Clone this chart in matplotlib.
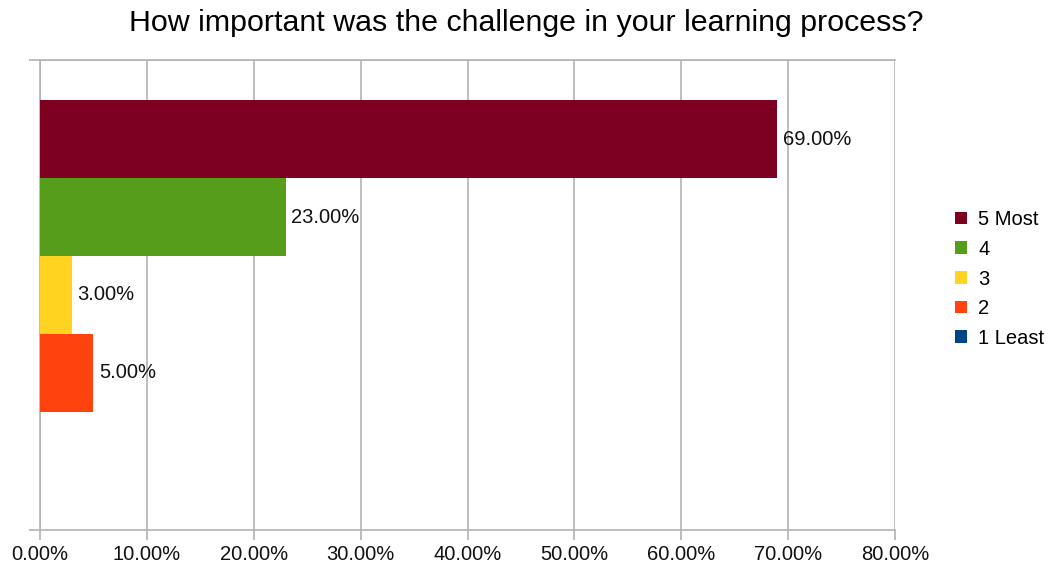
import matplotlib
matplotlib.use("Agg")
import matplotlib.pyplot as plt
from matplotlib.patches import Patch
from matplotlib.ticker import PercentFormatter

# datos
respuestas = ["5 Most", "4", "3", "2", "1 Least"]
porcentajes = [69.0, 23.0, 3.0, 5.0, 0.0]
colores = ["#7e0021", "#579d1c", "#ffd320", "#ff420e", "#004586"]
ticks_x = [0, 10, 20, 30, 40, 50, 60, 70, 80]
titulo = "How important was the challenge in your learning process?"

GRIS = "#b3b3b3"
plt.rcParams["font.family"] = ["Liberation Sans", "DejaVu Sans"]

fig = plt.figure(figsize=(10.52, 5.69), dpi=100)
ax = fig.add_axes([40 / 1052, 39 / 569, 855 / 1052, 470 / 569])

pos = list(range(len(respuestas)))
ax.barh(pos, porcentajes, height=1.0, color=colores, zorder=3)
for p, v in zip(pos, porcentajes):
    if v > 0:
        ax.annotate(f"{v:.2f}%", (v, p), xytext=(4, 0), textcoords="offset points",
                    va="center", ha="left", fontsize=14.5, color="#111111", zorder=4)

margen = 0.513
ax.set_ylim(len(respuestas) - 0.5 + margen, -0.5 - margen)
ax.set_xlim(0, 80)
ax.set_xticks(ticks_x)
ax.xaxis.set_major_formatter(PercentFormatter(decimals=2))
ax.set_yticks([-0.5 - margen, len(respuestas) - 0.5 + margen])
ax.set_yticklabels([])
ax.grid(axis="x", color=GRIS, linewidth=1.2, zorder=0)
ax.tick_params(axis="x", length=7, width=1.2, color=GRIS, labelsize=14.5,
               labelcolor="#111111", pad=4)
ax.tick_params(axis="y", length=8, width=1.2, color=GRIS)
for s in ax.spines.values():
    s.set_color(GRIS)
    s.set_linewidth(1.2)
ax.spines["right"].set_visible(False)

# linea superior hasta el tick izquierdo
ax.axhline(-0.5 - margen, color=GRIS, linewidth=1.2, zorder=1)

fig.text(526 / 1052, 1 - 23 / 569, titulo, ha="center", va="center", fontsize=21.9)

handles = [Patch(facecolor=c, edgecolor="none") for c in colores]
fig.legend(handles, respuestas, loc="center left", bbox_to_anchor=(955 / 1052, 1 - 279 / 569),
           frameon=False, fontsize=14.5, handlelength=0.6, handleheight=0.6,
           handletextpad=0.55, labelspacing=0.53, borderpad=0, borderaxespad=0)

fig.savefig("out.png", dpi=100)
